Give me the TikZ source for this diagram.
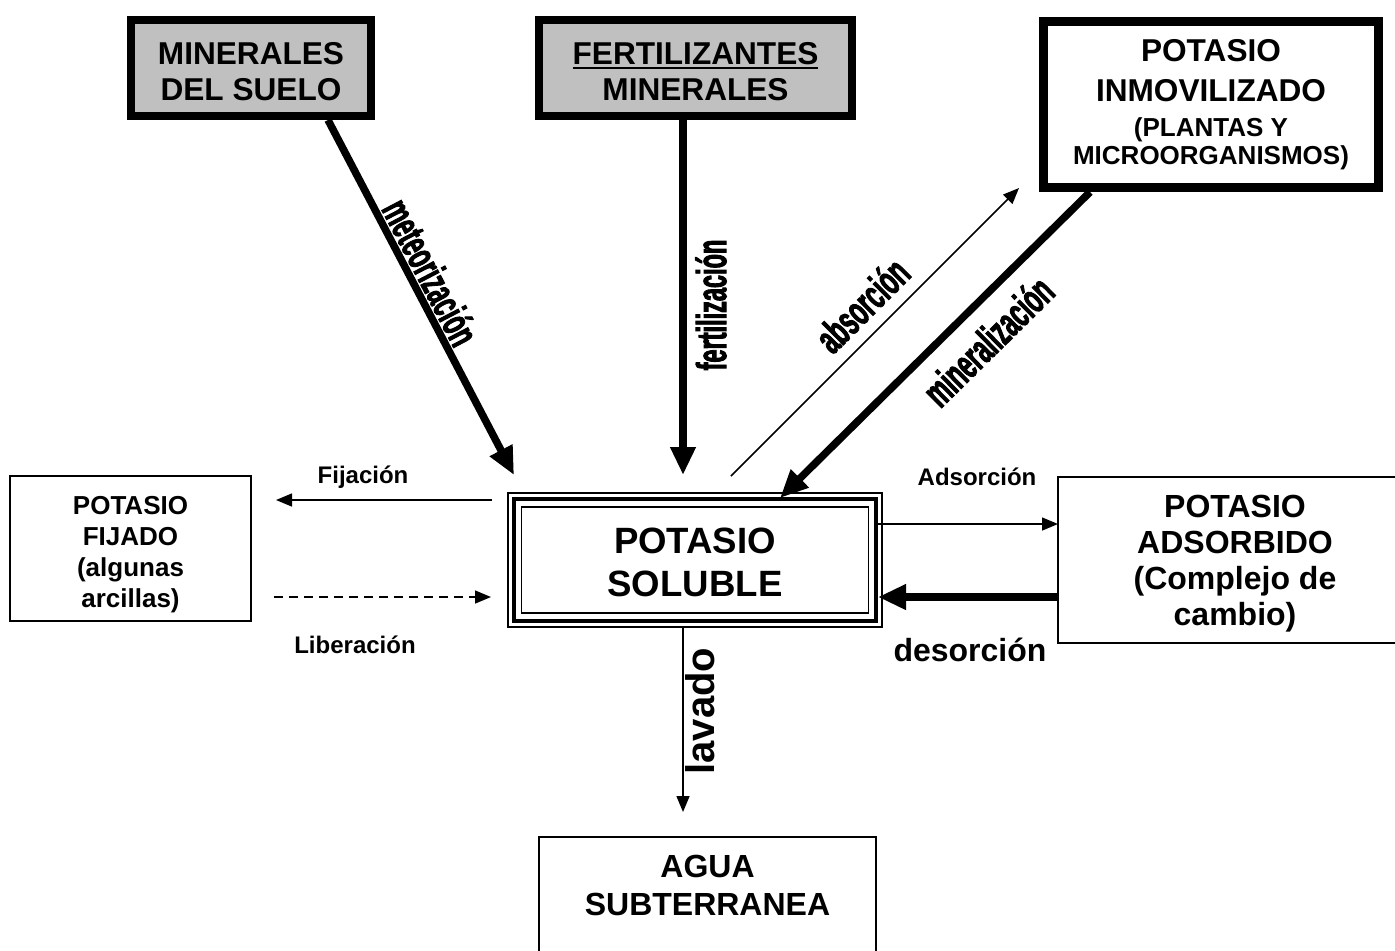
\documentclass[tikz,border=0pt]{standalone}
\usepackage{fontspec}
\setmainfont{Liberation Sans}
\newfontfamily\fuenteestrecha[FakeStretch=0.56,FakeBold=2]{Liberation Sans}
\usetikzlibrary{arrows.meta}
\definecolor{grismin}{RGB}{192,192,192}
\newcommand{\subrayado}[1]{\leavevmode\setbox0\hbox{#1}\rlap{\rule[-2.6pt]{\wd0}{1.1pt}}\box0}
\newcommand{\alto}[1]{\rule{0pt}{#1}}
\tikzset{
    cajagris/.style = {draw, fill=grismin, line width=4pt, inner sep=0pt, outer sep=0pt, align=center,
                       text depth=0pt, font=\bfseries\fontsize{15.8}{18}\selectfont},
    cajanegra/.style = {draw, line width=4.5pt, inner sep=0pt, outer sep=0pt, align=center,
                        font=\bfseries\fontsize{15.8}{14}\selectfont},
    cajafina/.style = {draw, line width=0.8pt, inner sep=0pt, outer sep=0pt, align=center},
    flechagruesa/.style = {line width=3.75pt, -{Triangle[length=14pt,width=12pt]}},
    flechafina/.style = {line width=0.75pt, -{Triangle[length=8pt,width=6.5pt]}},
    etiqueta/.style = {font=\bfseries\fontsize{12}{14}\selectfont},
    estrecha/.style = {font=\fuenteestrecha\bfseries\fontsize{21}{23}\selectfont, inner sep=0pt}
}
\begin{document}
\begin{tikzpicture}[x=0.5pt, y=-0.5pt]
            \useasboundingbox (0,0) rectangle (1395,950);
            \clip (0,0) rectangle (1395,950);
            % cajas de arriba
            \node [cajagris, minimum width=120pt, minimum height=48pt] (minsuelo) at (251,68) {\alto{14pt}MINERALES\\DEL SUELO};
            \node [cajagris, minimum width=156.5pt, minimum height=48pt] (fertmin) at (695.5,68) {\alto{14pt}\subrayado{FERTILIZANTES}\\MINERALES};
            \node [cajanegra, minimum width=167.5pt, minimum height=83pt] (inmov) at (1211,104.5) {POTASIO\\[6pt]INMOVILIZADO\\[3.5pt]\fontsize{13}{14}\selectfont (PLANTAS Y\\\fontsize{13}{14}\selectfont MICROORGANISMOS)};
            % caja central
            \node [cajafina, line width=2.25pt, minimum width=181pt, minimum height=61pt, text depth=0pt,
                   font=\bfseries\fontsize{18.3}{21.5}\selectfont] (soluble) at (695,560) {\alto{14.9pt}POTASIO\\SOLUBLE};
            \draw [line width=0.75pt] ([shift={(-3pt,3pt)}]soluble.north west) rectangle ([shift={(3pt,-3pt)}]soluble.south east);
            \draw [line width=0.75pt] ([shift={(3.75pt,-4pt)}]soluble.north west) rectangle ([shift={(-3.75pt,4pt)}]soluble.south east);
            % cajas de los lados y de abajo
            \node [cajafina, minimum width=120.5pt, minimum height=72.5pt, text depth=0pt,
                   font=\bfseries\fontsize{13}{15.5}\selectfont] (fijado) at (130.5,548.5) {\alto{12.7pt}POTASIO\\FIJADO\\(algunas\\arcillas)};
            \node [cajafina, minimum width=177pt, minimum height=83pt, text depth=0pt,
                   font=\bfseries\fontsize{16}{18}\selectfont] (adsorbido) at (1235,560) {POTASIO\\ADSORBIDO\\(Complejo de\\cambio)};
            \node [cajafina, anchor=north, minimum width=168.5pt, inner ysep=9pt, text depth=40pt,
                   font=\bfseries\fontsize{16}{19}\selectfont] (agua) at (707.5,837) {AGUA\\SUBTERRANEA};
            % puntos de las flechas
            \coordinate (meteoA) at (328,120);
            \coordinate (meteoB) at (514,475);
            \coordinate (fertA) at (683,120);
            \coordinate (fertB) at (683,475);
            \coordinate (absorA) at (731,476);
            \coordinate (absorB) at (1019,188);
            \coordinate (mineraA) at (1090,192);
            \coordinate (mineraB) at (780,498);
            \coordinate (fijaA) at (492,500);
            \coordinate (fijaB) at (276,500);
            \coordinate (liberaA) at (274,597);
            \coordinate (liberaB) at (491,597);
            \coordinate (adsorA) at (877,524);
            \coordinate (adsorB) at (1058,524);
            \coordinate (desorA) at (1058,597);
            \coordinate (desorB) at (878,597);
            \coordinate (lavaA) at (683,627);
            \coordinate (lavaB) at (683,812);
            % flechas
            \draw [flechagruesa] (meteoA) -- (meteoB);
            \draw [flechagruesa] (fertA) -- (fertB);
            \draw [flechafina] (absorA) -- (absorB);
            \draw [flechagruesa] (mineraA) -- (mineraB);
            \draw [flechafina] (fijaA) -- (fijaB);
            \draw [flechafina, dash pattern=on 4.5pt off 3pt] (liberaA) -- (liberaB);
            \draw [flechafina] (adsorA) -- (adsorB);
            \draw [flechagruesa] (desorA) -- (desorB);
            \draw [flechafina] (lavaA) -- (lavaB);
            % etiquetas
            \node [estrecha, rotate=-62.4] (lblmeteo) at (431,272) {meteorización};
            \node [estrecha, rotate=90] (lblfert) at (711,305) {fertilización};
            \node [estrecha, rotate=45] (lblabsor) at (862,305) {absorción};
            \node [estrecha, rotate=44.6] (lblminera) at (988,341) {mineralización};
            \node [etiqueta] (lblfija) at (363,477) {Fijación};
            \node [etiqueta] (lbllibera) at (355,645) {Liberación};
            \node [etiqueta] (lbladsor) at (977,477) {Adsorción};
            \node [font=\bfseries\fontsize{16}{18}\selectfont] (lbldesor) at (970,650) {desorción};
            \node [font=\bfseries\fontsize{20}{22}\selectfont, rotate=90, inner sep=0pt] (lbllava) at (700,711) {lavado};
\end{tikzpicture}
\end{document}
